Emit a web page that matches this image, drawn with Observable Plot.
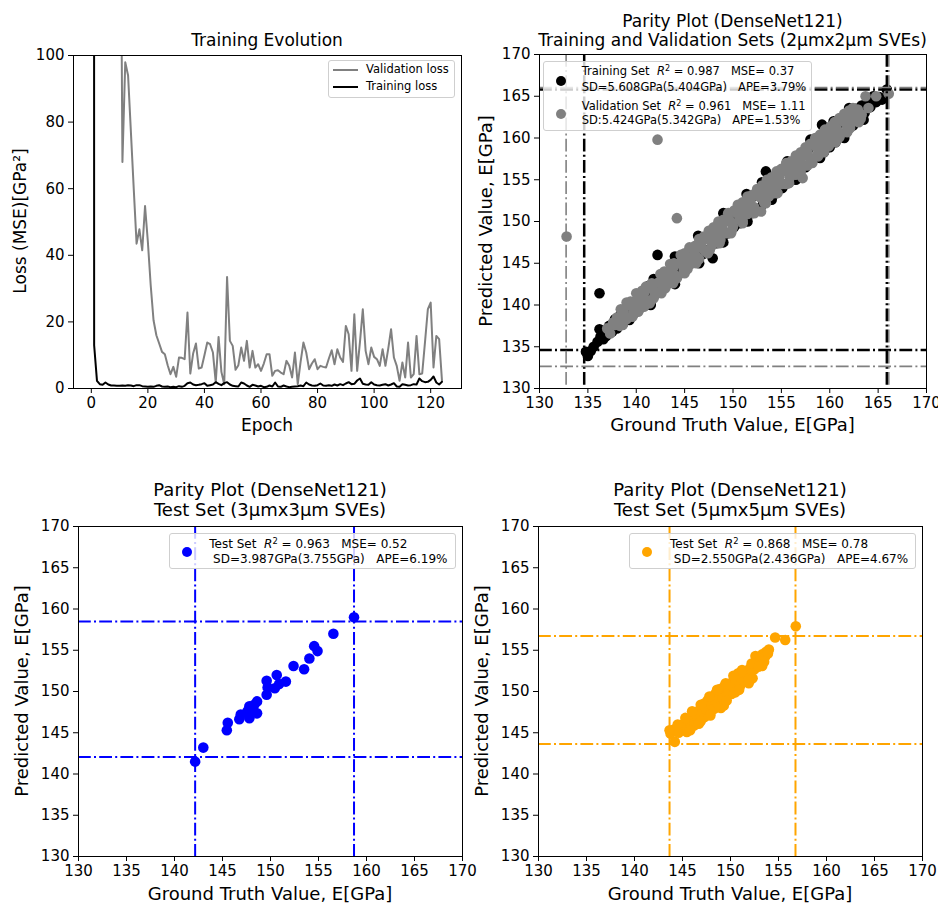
<!DOCTYPE html>
<html><head><meta charset="utf-8">
<script src="https://cdn.jsdelivr.net/npm/d3@7"></script>
<script src="https://cdn.jsdelivr.net/npm/@observablehq/plot@0.6"></script>
<style>
body{margin:0;background:#fff;font-family:"DejaVu Sans",sans-serif;}
#root{position:relative;width:938px;height:904px;overflow:hidden;background:#fff;}
.panel{position:absolute;}
.t{position:absolute;white-space:pre;color:#000;line-height:1;font-family:"DejaVu Sans",sans-serif;}
.leg{position:absolute;border:1px solid #cfcfcf;border-radius:3px;background:rgba(255,255,255,0.8);box-sizing:border-box;}
.sw{position:absolute;border-radius:50%;}
.ln{position:absolute;height:2px;}
sup{font-size:0.7em;vertical-align:0.5em;line-height:0;}
</style></head><body><div id="root"></div>
<script>
// ---------------- data ----------------
const lossTicksX = [0, 20, 40, 60, 80, 100, 120];
const lossTicksY = [0, 20, 40, 60, 80, 100];
const parityTicks = [130, 135, 140, 145, 150, 155, 160, 165, 170];

// loss per epoch (index = epoch)
const validationLoss = [1500,1200,900,700,600,500,420,350,300,250,
 200,68,98,94,77,60,43.5,47.8,41.5,54.8,
 44,31,20.5,16,13.5,11,10.3,7,4.3,6.5,
 3.5,9.3,9.2,8.8,22.8,4.5,10.5,13.5,6,6.3,
 10,13.8,13.3,10.8,1.8,15.5,5,1.3,33.5,14.3,
 12.8,5.6,7,12.3,8.3,14.3,6.3,11.3,6.3,7.3,
 5.3,7.5,10.3,10.3,3.8,5.3,5.5,4.8,4.3,8.3,
 6.8,3.3,10.8,1.3,8,13.8,10.8,5.8,7.5,8.8,
 5.8,6.8,6.5,6.3,9,11.5,7.3,11.8,9.3,8,
 18.8,16.3,5.3,22.3,5.3,14,23.8,11.3,7.3,12.3,
 9.5,8.8,6.8,11.8,6.8,12,17.8,9.3,6.8,2.3,
 7.8,3.3,13.8,3.3,4.3,15.8,4.3,4.5,14,23.8,
 25.8,6.3,15.8,14.8,2.3];
const trainingLoss = [5000,13,2.3,1.3,1.1,1.8,1.2,0.9,0.9,0.8,
 0.8,0.9,0.8,1.0,0.9,0.7,1.0,1.0,0.7,0.6,
 0.5,0.6,0.5,0.8,1.0,0.6,0.5,0.6,0.4,0.5,
 0.4,0.7,0.5,0.8,1.6,1.8,1.2,1.0,1.1,1.3,
 1.6,0.8,1.0,1.2,1.9,1.4,1.0,1.6,1.9,1.2,
 0.8,0.7,0.6,1.8,1.5,0.9,0.5,1.1,0.9,0.6,
 0.8,0.4,0.5,0.9,0.6,1.8,0.6,0.5,0.9,0.6,
 0.4,0.5,0.6,0.7,0.9,0.7,1.8,1.2,0.9,0.8,
 1.0,1.5,0.9,0.8,1.0,0.8,1.2,0.9,1.3,1.0,
 1.5,1.9,1.3,1.4,2.4,3.0,1.4,1.2,1.1,1.9,
 1.2,1.0,0.9,1.1,1.3,0.9,1.2,1.6,0.6,0.5,
 1.3,1.1,0.9,1.0,1.3,1.2,3.0,2.2,1.9,2.0,
 2.6,3.6,1.8,1.2,2.0];

// parity: [ground truth, predicted]
const trainingSet = [[134.8,134.4],[135.0,133.9],[135.3,134.5],[135.6,135.0],[136.0,135.6],[136.2,137.1],[136.3,136.2],[136.2,141.4],[136.6,135.9],[136.9,136.3],
 [137.2,137.5],[137.5,136.8],[137.8,138.3],[138.0,137.2],[138.4,138.9],[138.6,137.7],[139.0,139.6],[139.3,138.2],[139.5,140.3],[139.8,139.0],
 [140.2,140.9],[140.4,139.6],[140.8,141.2],[141.0,140.3],[141.3,142.3],[141.6,141.0],[141.8,143.1],[142.0,141.5],[142.2,146.0],[142.4,142.8],
 [142.7,142.0],[143.0,143.9],[143.3,142.6],[143.6,144.3],[143.9,143.2],[144.2,145.0],[144.5,143.8],[144.8,145.6],[145.1,144.3],[145.4,146.2],
 [145.7,145.0],[146.0,146.9],[146.3,145.4],[146.6,147.4],[146.9,146.1],[147.2,148.1],[147.5,146.6],[147.9,145.6],[148.0,148.8],[148.3,147.4],
 [148.6,149.5],[148.9,148.0],[149.2,150.1],[149.5,148.6],[149.8,150.8],[150.1,149.3],[150.4,151.3],[150.7,149.8],[151.0,151.9],[151.3,150.4],
 [151.6,152.5],[151.9,151.0],[152.2,153.1],[152.5,151.5],[152.8,153.8],[153.1,152.1],[153.4,156.0],[153.6,154.4],[153.9,152.8],[154.2,155.0],
 [154.5,153.4],[154.8,155.7],[155.1,154.0],[155.4,156.3],[155.7,154.6],[156.0,156.9],[156.3,155.2],[156.6,157.5],[156.9,155.8],[157.2,158.1],
 [157.5,156.5],[157.8,158.7],[158.1,157.1],[158.4,159.3],[158.7,157.7],[159.0,159.9],[159.2,161.6],[159.4,158.3],[159.7,160.5],[160.0,158.9],
 [160.3,161.1],[160.6,159.5],[160.9,161.7],[161.2,160.2],[161.5,162.3],[161.8,160.8],[162.1,162.9],[162.4,161.5],[162.7,163.5],[163.0,162.3],
 [163.3,163.9],[163.6,163.0],[163.9,164.6],[164.2,163.7],[164.5,165.0],[164.8,164.3],[165.1,164.9],[165.4,164.6],[165.9,165.8],
 [144.0,145.8],[146.4,148.3],[149.0,151.0],[151.4,153.3],[153.0,154.7],[155.6,157.2],[158.0,159.8],[160.4,162.0],[162.0,163.6],
 [141.5,140.0],[144.0,142.5],[146.5,145.0],[149.0,147.5],[151.5,150.0],[154.0,152.6],[156.5,155.0],[159.0,157.6],[161.5,160.0],[163.5,162.2]];
const validationSet = [[132.8,148.2],[142.2,159.8],[144.2,150.4],[137.0,137.2],[137.3,136.6],[137.6,137.9],[138.0,138.5],[138.3,137.5],[138.7,139.2],[139.0,138.3],
 [139.4,139.9],[139.7,139.0],[140.1,140.6],[140.5,139.8],[140.8,141.4],[141.2,140.5],[141.5,142.0],[141.9,141.2],[142.3,142.7],[142.7,141.9],
 [143.0,143.4],[143.4,142.7],[143.8,144.4],[144.1,143.5],[144.5,145.0],[144.9,144.2],[145.2,145.7],[145.6,144.9],[146.0,146.5],[146.3,145.7],
 [146.7,147.3],[147.1,146.5],[147.4,147.9],[147.8,147.1],[148.2,148.8],[148.5,147.9],[148.9,149.5],[149.3,148.6],[149.6,150.2],[150.0,149.4],
 [150.4,151.0],[150.7,150.2],[151.1,151.6],[151.5,150.9],[151.8,152.4],[152.2,151.7],[152.6,153.1],[152.9,151.2],[153.3,153.8],[153.7,153.0],
 [154.0,154.5],[154.4,153.8],[154.8,155.3],[155.1,154.5],[155.5,156.0],[155.9,155.3],[156.2,156.8],[156.6,156.0],[157.0,157.5],[157.2,155.2],
 [157.4,156.7],[157.7,158.3],[158.1,157.5],[158.5,159.0],[158.8,158.2],[159.2,159.8],[159.6,159.0],[160.0,160.5],[160.3,159.8],[160.7,161.2],
 [161.1,160.5],[161.4,162.0],[161.8,161.3],[162.2,162.7],[162.5,162.0],[162.9,163.4],[163.3,162.8],[163.7,165.0],[164.8,165.0],[166.1,165.3],
 [139.0,140.3],[140.0,141.4],[141.0,142.2],[142.5,143.7],[143.5,144.9],[144.6,146.0],[145.5,146.9],[146.5,147.9],[147.5,148.9],[148.5,150.0],
 [149.5,151.0],[150.5,152.0],[151.5,153.0],[152.5,153.9],[153.5,155.0],[154.5,156.0],[155.5,157.0],[156.5,157.9],[157.5,158.9],[158.5,160.0],
 [159.5,161.0],[160.5,161.9],[161.5,162.9],[162.4,163.6],
 [140.2,139.2],[141.4,140.2],[142.6,141.4],[143.8,142.6],[145.0,143.8],[146.2,145.0],[147.4,146.2],[148.6,147.4],[149.8,148.6],[151.0,149.8],
 [152.2,151.0],[153.4,152.2],[154.6,153.4],[155.8,154.6],[157.0,155.9],[158.2,157.0],[159.4,158.3],[160.6,159.5],[161.8,160.7],[163.0,161.9],[164.0,163.6],
 [137.8,137.6],[138.8,138.6],[139.8,139.7],[140.8,140.8],[141.8,141.8],[142.8,142.8],[143.8,143.7],[144.8,144.9],[145.8,145.8],[146.8,146.8],
 [147.8,147.9],[148.8,148.8],[149.8,149.9],[150.8,150.9],[151.8,151.7],[152.8,152.9],[153.8,153.9],[154.8,154.8],[155.8,155.9],[156.8,156.9],
 [157.8,157.8],[158.8,158.9],[159.8,159.9],[160.8,160.8],[161.8,161.9],[162.8,162.8],
 [138.4,139.5],[139.4,140.4],[140.6,141.7],[141.6,142.6],[142.9,144.0],[143.9,145.0],[145.0,146.2],[146.1,147.1],[147.0,148.2],[148.0,149.3],
 [149.0,150.2],[150.1,151.3],[151.0,152.3],[152.0,153.2],[153.0,154.3],[154.0,155.3],[155.0,156.3],[156.0,157.2],[157.0,158.3],[158.0,159.3],
 [159.0,160.4],[160.1,161.4],[161.0,162.4],[162.0,163.3],
 [138.6,137.6],[139.6,138.6],[140.8,139.8],[141.8,140.8],[143.0,142.0],[144.2,143.2],[145.3,144.3],[146.5,145.5],[147.6,146.6],[148.7,147.8],
 [149.9,149.0],[151.0,150.1],[152.1,151.2],[153.2,152.3],[154.3,153.4],[155.4,154.5],[156.5,155.6],[157.7,156.7],[158.8,157.8],[159.9,159.0],
 [161.0,160.1],[162.1,161.2],[163.2,162.3]];
const testSet3 = [[142.15,141.5],[143.0,143.2],[145.45,145.3],[145.55,146.2],[146.75,146.65],[146.9,147.2],[147.8,146.75],[147.8,148.2],[148.2,147.75],[148.6,147.35],
 [148.6,148.8],[147.6,147.6],[148.3,148.4],[149.6,149.6],[149.6,151.3],[149.7,150.5],[150.45,150.4],[150.65,152.0],[150.9,150.9],[151.6,151.2],
 [152.4,153.1],[153.5,152.7],[154.05,154.0],[154.55,155.5],[154.9,154.9],[156.55,157.0],[158.7,159.0]];
const testSet5 = [[143.65,145.3],[143.75,144.9],[144.2,143.9],[144.1,145.4],[144.6,145.0],[145.0,146.0],[145.2,145.6],[145.45,145.1],[145.6,146.5],[145.9,146.0],
 [146.1,147.4],[146.3,146.6],[146.25,145.9],[146.5,147.0],[146.7,146.1],[146.8,147.8],[147.0,147.3],[147.2,148.5],[147.3,146.9],[147.5,147.8],
 [147.6,148.9],[147.9,147.3],[148.0,148.4],[148.1,149.3],[148.3,147.9],[148.4,149.7],[148.6,148.6],[148.8,149.3],[148.9,150.3],[149.0,148.0],
 [149.2,149.2],[149.3,148.3],[149.4,150.7],[149.6,149.6],[149.8,150.2],[150.0,151.0],[150.1,149.7],[150.2,150.6],[150.4,151.8],[150.5,149.9],
 [150.7,151.2],[150.8,152.2],[151.0,150.7],[151.1,151.6],[151.3,152.4],[151.5,151.3],[151.7,152.2],[151.9,151.5],[152.0,152.8],[152.3,151.6],
 [152.5,152.7],[152.6,154.3],[152.8,153.2],[153.0,153.5],[153.1,154.0],[153.3,154.5],[153.5,153.6],[153.7,154.8],[154.0,155.1],[154.65,156.55],
 [155.7,156.25],[156.8,157.9],
 [144.5,146.0],[145.3,146.8],[146.0,147.6],[146.9,148.4],[147.8,149.4],[148.6,150.2],[149.5,151.0],[150.3,151.9],[151.2,152.6],[152.2,153.4],
 [153.6,154.2],[153.9,154.6],[145.8,145.3],[146.9,146.4],[147.9,147.1],[149.6,148.9],[150.9,150.2],[151.9,151.0],[153.3,153.1],[152.9,153.0]];

// reference (min / max) lines
const trainRefX = [134.62, 165.9], trainRefY = [134.6, 165.8];
const valRefX = [132.75, 166.1], valRefY = [132.65, 166.05];
const test3RefX = [142.15, 158.7], test3RefY = [142.05, 158.5];
const test5RefX = [143.65, 156.77], test5RefY = [143.65, 156.72];

// texts
const lossLegend = ["Validation loss", "Training loss"];
const legend2 = ["Training Set  R^2 = 0.987   MSE= 0.37", "SD=5.608GPa(5.404GPa)   APE=3.79%",
                 "Validation Set  R^2 = 0.961   MSE= 1.11", "SD:5.424GPa(5.342GPa)   APE=1.53%"];
const legend3 = ["Test Set  R^2 = 0.963   MSE= 0.52", " SD=3.987GPa(3.755GPa)   APE=6.19%"];
const legend4 = ["Test Set  R^2 = 0.868   MSE= 0.78", " SD=2.550GPa(2.436GPa)   APE=4.67%"];

// ---------------- drawing ----------------
const root = document.getElementById("root");
const baseStyle = {fontFamily: "DejaVu Sans", fontSize: "15px", color: "black", background: "transparent", overflow: "visible"};
const dashDot = "12.8,3.2,2,3.2";

function place(svg, left, top) {
  const d = document.createElement("div");
  d.className = "panel"; d.style.left = left + "px"; d.style.top = top + "px";
  d.appendChild(svg); root.appendChild(d);
}
function addText(str, x, y, size, opt = {}) {
  const d = document.createElement("div");
  d.className = "t"; d.style.left = x + "px"; d.style.top = y + "px"; d.style.fontSize = size + "px";
  const tx = opt.anchor === "start" ? "0" : "-50%";
  d.style.transform = `translate(${tx},-50%)` + (opt.rotate ? ` rotate(${opt.rotate}deg)` : "");
  if (opt.html) d.innerHTML = str; else d.textContent = str;
  root.appendChild(d);
  return d;
}
function mathify(s) { return s.replace("R^2", "<i>R</i><sup>2</sup>"); }
function box(x0, y0, x1, y1) {
  const d = document.createElement("div"); d.className = "leg";
  Object.assign(d.style, {left: x0 + "px", top: y0 + "px", width: (x1 - x0) + "px", height: (y1 - y0) + "px"});
  root.appendChild(d);
}
function swatch(cx, cy, r, color) {
  const d = document.createElement("div"); d.className = "sw";
  Object.assign(d.style, {left: (cx - r) + "px", top: (cy - r) + "px", width: 2 * r + "px", height: 2 * r + "px", background: color});
  root.appendChild(d);
}
function lineSw(x0, x1, cy, color) {
  const d = document.createElement("div"); d.className = "ln";
  Object.assign(d.style, {left: x0 + "px", top: (cy - 1) + "px", width: (x1 - x0) + "px", background: color});
  root.appendChild(d);
}
const axisOpts = {tickSize: 5, tickPadding: 4, label: null, fontSize: 15};

// Panel 1: training evolution
const lossRows = (arr) => arr.map((v, i) => ({epoch: i, loss: v}));
place(Plot.plot({
  width: 470, height: 440, marginTop: 55, marginLeft: 73, marginRight: 9, marginBottom: 52,
  style: baseStyle,
  x: {domain: [-6.3, 130.9], label: null},
  y: {domain: [0, 100], label: null},
  marks: [
    Plot.line(lossRows(validationLoss), {x: "epoch", y: "loss", stroke: "gray", strokeWidth: 2, clip: true}),
    Plot.line(lossRows(trainingLoss), {x: "epoch", y: "loss", stroke: "black", strokeWidth: 2, clip: true}),
    Plot.frame({stroke: "black", strokeWidth: 1}),
    Plot.axisX({...axisOpts, ticks: lossTicksX}),
    Plot.axisY({...axisOpts, ticks: lossTicksY})
  ]
}), 0, 0);

function parity(opts, dataMarks) {
  return Plot.plot({
    width: opts.width, height: opts.height,
    marginTop: opts.mt, marginLeft: opts.ml, marginRight: opts.mr, marginBottom: opts.mb,
    style: baseStyle,
    x: {domain: [130, 170], label: null},
    y: {domain: [130, 170], label: null},
    marks: [
      ...dataMarks,
      Plot.frame({stroke: "black", strokeWidth: 1}),
      Plot.axisX({...axisOpts, ticks: parityTicks}),
      Plot.axisY({...axisOpts, ticks: parityTicks})
    ]
  });
}
const px = d => d[0], py = d => d[1];
const R = 5.3;

// Panel 2
place(parity({width: 468, height: 440, mt: 54, ml: 69, mr: 12, mb: 52}, [
  Plot.dot(trainingSet, {x: px, y: py, r: R, fill: "black", stroke: "none"}),
  Plot.dot(validationSet, {x: px, y: py, r: R, fill: "gray", stroke: "none"}),
  Plot.ruleX(trainRefX, {stroke: "black", strokeWidth: 2.5, strokeDasharray: dashDot}),
  Plot.ruleY(trainRefY, {stroke: "black", strokeWidth: 2.5, strokeDasharray: dashDot}),
  Plot.ruleX(valRefX, {stroke: "gray", strokeWidth: 1.6, strokeDasharray: dashDot}),
  Plot.ruleY(valRefY, {stroke: "gray", strokeWidth: 1.6, strokeDasharray: dashDot})
]), 470, 0);

// Panel 3
place(parity({width: 470, height: 454, mt: 76, ml: 78, mr: 8, mb: 48}, [
  Plot.dot(testSet3, {x: px, y: py, r: R, fill: "blue", stroke: "none"}),
  Plot.ruleX(test3RefX, {stroke: "blue", strokeWidth: 2, strokeDasharray: dashDot}),
  Plot.ruleY(test3RefY, {stroke: "blue", strokeWidth: 2, strokeDasharray: dashDot})
]), 0, 450);

// Panel 4
place(parity({width: 468, height: 454, mt: 76, ml: 68, mr: 16, mb: 48}, [
  Plot.dot(testSet5, {x: px, y: py, r: R, fill: "orange", stroke: "none"}),
  Plot.ruleX(test5RefX, {stroke: "orange", strokeWidth: 2, strokeDasharray: dashDot}),
  Plot.ruleY(test5RefY, {stroke: "orange", strokeWidth: 2, strokeDasharray: dashDot})
]), 470, 450);

// Titles
addText("Training Evolution", 267, 40, 17);
addText("Parity Plot (DenseNet121)", 732.5, 20.5, 17);
addText("Training and Validation Sets (2μmx2μm SVEs)", 732.5, 39.5, 17);
addText("Parity Plot (DenseNet121)", 270, 490, 18);
addText("Test Set (3μmx3μm SVEs)", 270, 510, 18);
addText("Parity Plot (DenseNet121)", 730, 490, 18);
addText("Test Set (5μmx5μm SVEs)", 730, 510, 18);

// Axis labels
addText("Epoch", 267, 425, 17);
addText("Loss (MSE)[GPa²]", 20, 221, 17, {rotate: -90});
addText("Ground Truth Value, E[GPa]", 732.5, 425, 18);
addText("Predicted Value, E[GPa]", 485.5, 221, 18, {rotate: -90});
addText("Ground Truth Value, E[GPa]", 270, 894, 18);
addText("Predicted Value, E[GPa]", 22, 691, 18, {rotate: -90});
addText("Ground Truth Value, E[GPa]", 730, 894, 18);
addText("Predicted Value, E[GPa]", 482, 691, 18, {rotate: -90});

// Legends
box(328, 60, 455, 98);
lineSw(333, 358, 70, "gray");
lineSw(333, 358, 87, "black");
addText(lossLegend[0], 366, 70, 11.5, {anchor: "start"});
addText(lossLegend[1], 366, 87, 11.5, {anchor: "start"});

box(543, 61, 812, 131);
swatch(560.7, 80.7, 5, "black");
swatch(560.7, 114, 5, "gray");
[72.3, 88.3, 106.7, 120.7].forEach((y, i) => addText(mathify(legend2[i]), 581.7, y, 11.5, {anchor: "start", html: true}));

box(169, 533, 456, 569);
swatch(186.7, 551.7, 5, "blue");
addText(mathify(legend3[0]), 209.3, 544, 12, {anchor: "start", html: true});
addText(mathify(legend3[1]), 209.3, 559.3, 12, {anchor: "start", html: true});

box(629, 533, 916, 569);
swatch(647, 551.7, 5, "orange");
addText(mathify(legend4[0]), 670, 544, 12, {anchor: "start", html: true});
addText(mathify(legend4[1]), 670, 559.3, 12, {anchor: "start", html: true});
</script></body></html>
